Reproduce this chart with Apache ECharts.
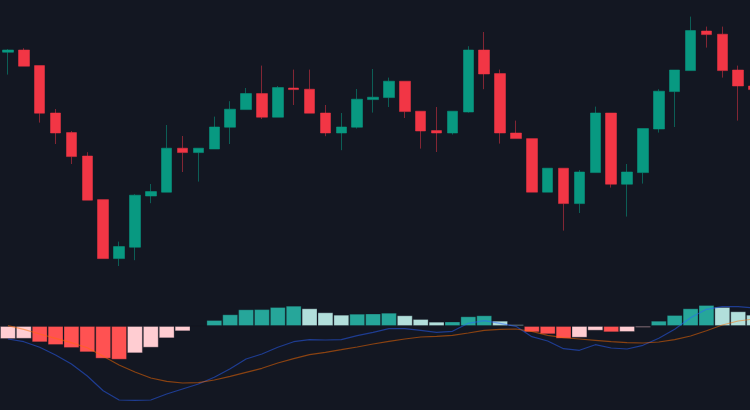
<!DOCTYPE html>
<html>
<head>
<meta charset="utf-8">
<style>
  html, body { margin: 0; padding: 0; background: #131722; }
  #chart { width: 750px; height: 410px; }
</style>
<script src="https://cdn.jsdelivr.net/npm/echarts@6/dist/echarts.min.js"></script>
</head>
<body>
<div id="chart"></div>
<script>
// candles: [open, close, low, high]
const candles = [
  [54.89, 55.00, 53.77, 55.04], [55.00, 54.19, 54.19, 55.09], [54.22, 51.84, 51.37, 54.22],
  [51.85, 50.85, 50.30, 52.05], [50.87, 49.67, 49.30, 50.95], [49.70, 47.49, 47.49, 49.89],
  [47.52, 44.57, 44.57, 47.52], [44.57, 45.17, 44.20, 45.42], [45.14, 47.74, 44.49, 47.79],
  [47.70, 47.92, 47.34, 48.30], [47.89, 50.09, 47.89, 51.25], [50.09, 49.87, 48.90, 50.70],
  [49.87, 50.09, 48.42, 50.09], [50.05, 51.15, 50.05, 51.67], [51.14, 52.04, 50.30, 52.44],
  [52.02, 52.82, 52.02, 53.10], [52.82, 51.64, 51.55, 54.22], [51.64, 53.12, 51.64, 53.20],
  [53.10, 53.02, 52.25, 54.02], [53.04, 51.84, 51.84, 54.02], [51.85, 50.85, 50.69, 52.25],
  [50.85, 51.15, 49.99, 51.85], [51.14, 52.54, 51.07, 53.05], [52.52, 52.64, 51.87, 54.05],
  [52.62, 53.44, 52.15, 53.62], [53.44, 51.92, 51.60, 53.44], [51.94, 50.95, 50.07, 51.94],
  [50.97, 50.85, 49.90, 52.15], [50.85, 51.94, 50.77, 51.94], [51.90, 55.00, 51.87, 55.19],
  [55.00, 53.80, 53.04, 55.90], [53.82, 50.85, 50.32, 54.02], [50.85, 50.57, 50.57, 51.47],
  [50.57, 47.89, 47.89, 50.57], [47.89, 49.09, 47.89, 49.09], [49.09, 47.32, 45.97, 49.09],
  [47.32, 48.90, 46.85, 49.00], [48.87, 51.85, 48.87, 52.17], [51.85, 48.29, 48.12, 51.85],
  [48.29, 48.90, 46.67, 49.30], [48.87, 51.07, 48.32, 51.07], [51.05, 52.94, 50.87, 53.04],
  [52.92, 54.00, 51.15, 54.00], [53.97, 55.97, 53.97, 56.67], [55.95, 55.77, 55.12, 56.17],
  [55.79, 53.97, 53.62, 56.17], [54.00, 53.20, 51.47, 54.22], [53.20, 53.02, 53.02, 53.20]
];

const macdLine = [
  -0.130, -0.157, -0.213, -0.290, -0.380, -0.500, -0.647, -0.740, -0.743, -0.740,
  -0.680, -0.630, -0.580, -0.513, -0.427, -0.330, -0.280, -0.213, -0.157, -0.137,
  -0.140, -0.137, -0.097, -0.063, -0.027, -0.027, -0.043, -0.063, -0.053, 0.027,
  0.053, 0.027, -0.003, -0.107, -0.150, -0.227, -0.243, -0.187, -0.220, -0.230,
  -0.193, -0.123, -0.033, 0.083, 0.167, 0.193, 0.193, 0.180
];

const signalLine = [
  0.003, -0.033, -0.080, -0.123, -0.167, -0.217, -0.303, -0.390, -0.460, -0.520,
  -0.553, -0.570, -0.567, -0.540, -0.503, -0.463, -0.423, -0.370, -0.327, -0.287,
  -0.263, -0.237, -0.210, -0.180, -0.153, -0.130, -0.110, -0.103, -0.093, -0.070,
  -0.043, -0.033, -0.030, -0.053, -0.093, -0.117, -0.130, -0.143, -0.157, -0.167,
  -0.170, -0.160, -0.137, -0.100, -0.047, 0.010, 0.050, 0.070
];

const histogram = [
  -0.130, -0.128, -0.163, -0.190, -0.220, -0.263, -0.327, -0.337, -0.273, -0.217,
  -0.123, -0.053, -0.004, 0.060, 0.117, 0.167, 0.169, 0.190, 0.203, 0.177,
  0.137, 0.113, 0.123, 0.125, 0.133, 0.107, 0.070, 0.043, 0.045, 0.097,
  0.107, 0.053, 0.017, -0.063, -0.083, -0.127, -0.117, -0.047, -0.063, -0.060,
  -0.017, 0.053, 0.110, 0.177, 0.210, 0.190, 0.147, 0.113
];

const categories = candles.map((c, i) => 'D' + (i + 1));

function histColor(i) {
  const v = histogram[i];
  const prev = i > 0 ? histogram[i - 1] : v;
  if (v >= 0) return v > prev ? '#26A69A' : '#B2DFDB';
  return v < prev ? '#FF5252' : '#FFCDD2';
}

const chart = echarts.init(document.getElementById('chart'));

const hiddenX = gridIndex => ({
  type: 'category',
  gridIndex,
  data: categories,
  boundaryGap: true,
  axisLine: { show: false },
  axisTick: { show: false },
  axisLabel: { show: false },
  splitLine: { show: false }
});

const hiddenY = (gridIndex, min, max) => ({
  type: 'value',
  gridIndex,
  min,
  max,
  axisLine: { show: false },
  axisTick: { show: false },
  axisLabel: { show: false },
  splitLine: { show: false }
});

chart.setOption({
  animation: false,
  backgroundColor: '#131722',
  // the last candle runs past the right edge, so the grids are wider than the page
  grid: [
    { left: 0, top: 0, width: 762, height: 280, outerBoundsMode: 'none', containLabel: false },
    { left: 0, top: 290, width: 762, height: 120, outerBoundsMode: 'none', containLabel: false }
  ],
  xAxis: [hiddenX(0), hiddenX(1)],
  yAxis: [hiddenY(0, 43.5, 57.5), hiddenY(1, -0.84, 0.36)],
  series: [
    {
      type: 'candlestick',
      xAxisIndex: 0,
      yAxisIndex: 0,
      barWidth: 11,
      data: candles,
      itemStyle: {
        color: '#089981',
        color0: '#F23645',
        borderColor: 'rgba(8,153,129,0.55)',
        borderColor0: 'rgba(242,54,69,0.5)',
        borderWidth: 1
      }
    },
    {
      type: 'bar',
      xAxisIndex: 1,
      yAxisIndex: 1,
      barCategoryGap: '0%',
      data: histogram.map((v, i) => ({
        value: v,
        itemStyle: { color: histColor(i) }
      })),
      itemStyle: {
        borderColor: 'rgba(19,23,34,0.3)',
        borderWidth: 1
      }
    },
    {
      type: 'line',
      xAxisIndex: 1,
      yAxisIndex: 1,
      data: macdLine,
      symbol: 'none',
      z: 5,
      lineStyle: { color: '#2962FF', width: 1.2, opacity: 0.5 }
    },
    {
      type: 'line',
      xAxisIndex: 1,
      yAxisIndex: 1,
      data: signalLine,
      symbol: 'none',
      z: 5,
      lineStyle: { color: '#FF6D00', width: 1.2, opacity: 0.5 }
    }
  ]
});
</script>
</body>
</html>
